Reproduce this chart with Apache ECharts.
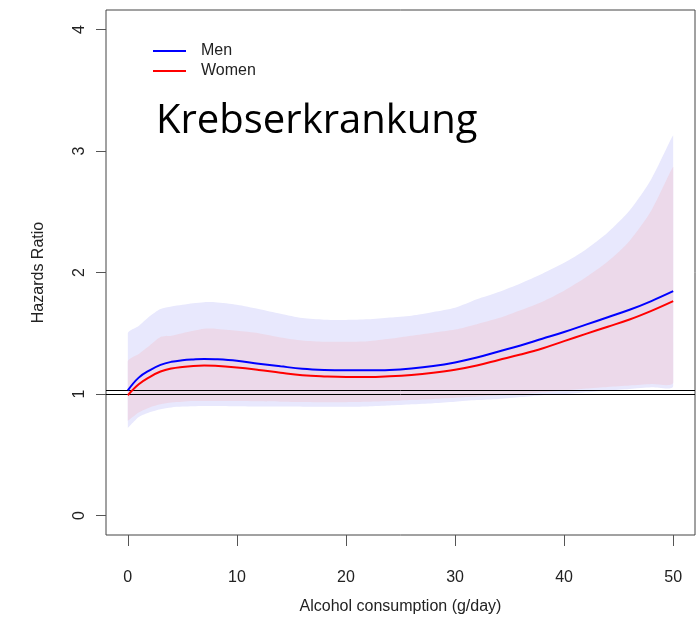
<!DOCTYPE html>
<html>
<head>
<meta charset="utf-8">
<title>Krebserkrankung</title>
<script src="https://cdn.jsdelivr.net/npm/echarts@6/dist/echarts.min.js"></script>
<style>
  html, body { margin: 0; padding: 0; background: #fff; }
  #chart { width: 697px; height: 620px; }
</style>
</head>
<body>
<div id="chart"></div>
<script>
// Alcohol consumption (g/day) at which the hazard ratios are evaluated
const alcohol = [0, 1, 2, 3, 4, 5, 6, 7, 8, 10, 12, 14, 16, 18, 20, 22, 24, 26, 28, 30, 32, 34, 36, 38, 40, 42, 44, 46, 48, 50];

// Hazard ratio estimates
const menHR   = [1.03, 1.135, 1.195, 1.24, 1.265, 1.278, 1.285, 1.289, 1.287, 1.274, 1.25, 1.228, 1.208, 1.198, 1.195, 1.195, 1.198, 1.21, 1.23, 1.26, 1.30, 1.35, 1.40, 1.455, 1.51, 1.571, 1.632, 1.693, 1.765, 1.846];
const womenHR = [0.99, 1.08, 1.14, 1.185, 1.21, 1.223, 1.231, 1.234, 1.232, 1.218, 1.198, 1.175, 1.155, 1.145, 1.14, 1.14, 1.146, 1.157, 1.175, 1.20, 1.235, 1.28, 1.325, 1.375, 1.435, 1.495, 1.554, 1.613, 1.684, 1.764];

// 95% confidence limits
const menLo   = [0.72, 0.81, 0.85, 0.875, 0.89, 0.897, 0.9, 0.902, 0.902, 0.90, 0.898, 0.897, 0.896, 0.895, 0.895, 0.898, 0.905, 0.915, 0.925, 0.937, 0.95, 0.96, 0.975, 0.99, 1.0, 1.015, 1.03, 1.042, 1.055, 1.066];
const menHi   = [1.50, 1.56, 1.64, 1.70, 1.72, 1.735, 1.748, 1.756, 1.756, 1.735, 1.70, 1.66, 1.625, 1.612, 1.61, 1.615, 1.63, 1.645, 1.675, 1.71, 1.78, 1.84, 1.91, 1.99, 2.08, 2.19, 2.33, 2.51, 2.77, 3.13];
const womenLo = [0.78, 0.848, 0.89, 0.915, 0.93, 0.937, 0.942, 0.943, 0.943, 0.942, 0.94, 0.937, 0.935, 0.933, 0.933, 0.936, 0.942, 0.95, 0.96, 0.97, 0.98, 0.99, 1.0, 1.015, 1.03, 1.045, 1.058, 1.07, 1.082, 1.094];
const womenHi = [1.27, 1.33, 1.40, 1.47, 1.48, 1.50, 1.52, 1.537, 1.537, 1.52, 1.50, 1.465, 1.44, 1.43, 1.43, 1.435, 1.455, 1.48, 1.505, 1.53, 1.575, 1.625, 1.69, 1.76, 1.85, 1.96, 2.09, 2.26, 2.51, 2.87];

// Axis ticks and reference lines
const xTicks = [0, 10, 20, 30, 40, 50];
const yTicks = [0, 1, 2, 3, 4];
const refLines = [1, 1.03];

const pairs = (ys) => alcohol.map((x, i) => [x, ys[i]]);
const triples = (lo, hi) => alcohol.map((x, i) => [x, lo[i], hi[i]]);

// Confidence band: one polygon, upper limit left-to-right then lower limit back
function bandRenderer(lo, hi, fill) {
  return function (params, api) {
    if (params.dataIndex !== 0) return null;
    const pts = [];
    for (let i = 0; i < alcohol.length; i++) pts.push(api.coord([alcohol[i], hi[i]]));
    for (let i = alcohol.length - 1; i >= 0; i--) pts.push(api.coord([alcohol[i], lo[i]]));
    // keep the smoothed outline inside the band's own bounding box
    const xs = pts.map(p => p[0]);
    const ys = pts.map(p => p[1]);
    const bound = [[Math.min(...xs), Math.min(...ys)], [Math.max(...xs), Math.max(...ys)]];
    return {
      type: 'polygon',
      shape: { points: pts, smooth: 0.25, smoothConstraint: bound },
      style: { fill: fill, stroke: null }
    };
  };
}

const FONT = 'Liberation Sans';
const AXIS_GRAY = '#555';

const chart = echarts.init(document.getElementById('chart'), null, { renderer: 'canvas' });

chart.setOption({
  animation: false,
  backgroundColor: '#fff',
  title: {
    text: 'Krebserkrankung',
    left: 156,
    top: 102,
    padding: 0,
    textStyle: { fontFamily: 'Open Sans', fontSize: 40, fontWeight: 'normal', color: '#000' }
  },
  legend: {
    orient: 'vertical',
    left: 153,
    top: 43,
    padding: 0,
    itemWidth: 33,
    itemHeight: 2,
    itemGap: 4,
    icon: 'rect',
    data: ['Men', 'Women'],
    textStyle: { fontFamily: FONT, fontSize: 16, color: '#222', padding: [0, 0, 0, 10] }
  },
  grid: {
    left: 106, right: 2, top: 10, bottom: 83,
    show: true, borderColor: '#444', borderWidth: 1, backgroundColor: 'transparent'
  },
  xAxis: {
    type: 'value',
    min: -2, max: 52,
    name: 'Alcohol consumption (g/day)',
    nameLocation: 'middle',
    nameGap: 64,
    nameTextStyle: { fontFamily: FONT, fontSize: 16, color: '#222' },
    axisLine: { show: false, onZero: false },
    splitLine: { show: false },
    axisTick: { show: true, length: 11, customValues: xTicks, lineStyle: { color: AXIS_GRAY, width: 1 } },
    axisLabel: { customValues: xTicks, margin: 35, fontFamily: FONT, fontSize: 16, color: '#222' }
  },
  yAxis: {
    type: 'value',
    min: -0.16, max: 4.16,
    name: 'Hazards Ratio',
    nameLocation: 'middle',
    nameGap: 59,
    nameTextStyle: { fontFamily: FONT, fontSize: 16, color: '#222' },
    axisLine: { show: false, onZero: false },
    splitLine: { show: false },
    axisTick: { show: true, length: 10, customValues: yTicks, lineStyle: { color: AXIS_GRAY, width: 1 } },
    axisLabel: { customValues: yTicks, rotate: 90, margin: 18, fontFamily: FONT, fontSize: 16, color: '#222' }
  },
  series: [
    {
      name: 'menBand', type: 'custom', data: triples(menLo, menHi),
      encode: { x: 0, y: [1, 2] }, silent: true, z: 1,
      renderItem: bandRenderer(menLo, menHi, '#E8E8FD')
    },
    {
      name: 'womenBand', type: 'custom', data: triples(womenLo, womenHi),
      encode: { x: 0, y: [1, 2] }, silent: true, z: 2,
      renderItem: bandRenderer(womenLo, womenHi, '#ECD9EA')
    },
    {
      name: 'Men', type: 'line', data: pairs(menHR), smooth: 0.4,
      symbol: 'none', showSymbol: false, z: 5,
      lineStyle: { color: '#0000FF', width: 2 }, itemStyle: { color: '#0000FF' },
      markLine: {
        silent: true, symbol: ['none', 'none'], label: { show: false },
        lineStyle: { color: '#000', width: 1, type: 'solid' },
        data: refLines.map(v => ({ yAxis: v }))
      }
    },
    {
      name: 'Women', type: 'line', data: pairs(womenHR), smooth: 0.4,
      symbol: 'none', showSymbol: false, z: 5,
      lineStyle: { color: '#FF0000', width: 2 }, itemStyle: { color: '#FF0000' }
    }
  ]
});
</script>
</body>
</html>
